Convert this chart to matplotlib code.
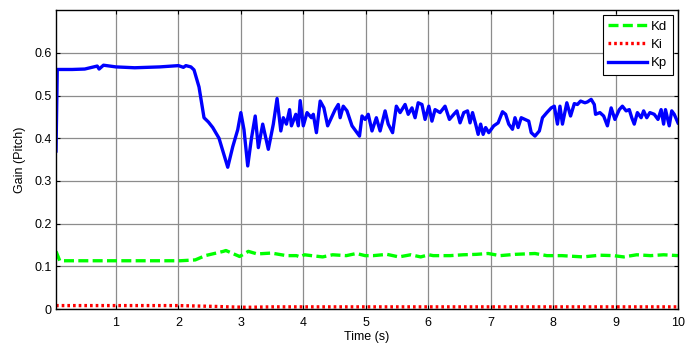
import matplotlib
matplotlib.use("Agg")
import matplotlib.pyplot as plt

plt.rcParams['font.family'] = ['Liberation Sans', 'DejaVu Sans']

# Proportional gain Kp over time
kp_t = [0.04, 0.06, 0.10, 0.30, 0.50, 0.70, 0.73, 0.80, 1.00, 1.30, 1.70, 2.00,
        2.08, 2.12, 2.20, 2.25, 2.33, 2.41, 2.48, 2.55, 2.65, 2.79, 2.87, 2.95,
        3.00, 3.05, 3.11, 3.17, 3.23, 3.28, 3.35, 3.44, 3.52, 3.58, 3.64, 3.68,
        3.73, 3.78, 3.81, 3.88, 3.92, 3.95, 4.00, 4.06, 4.13, 4.16, 4.21, 4.27,
        4.33, 4.39, 4.45, 4.51, 4.56, 4.59, 4.64, 4.70, 4.78, 4.84, 4.90, 4.94,
        4.99, 5.04, 5.10, 5.17, 5.23, 5.31, 5.36, 5.43, 5.49, 5.55, 5.63, 5.68,
        5.74, 5.79, 5.84, 5.90, 5.95, 6.01, 6.06, 6.11, 6.19, 6.27, 6.34, 6.41,
        6.46, 6.51, 6.57, 6.63, 6.67, 6.71, 6.76, 6.80, 6.84, 6.88, 6.92, 6.97,
        7.05, 7.12, 7.19, 7.24, 7.29, 7.35, 7.39, 7.44, 7.49, 7.55, 7.61, 7.65,
        7.71, 7.78, 7.83, 7.90, 7.97, 8.02, 8.07, 8.11, 8.15, 8.22, 8.28, 8.34,
        8.39, 8.44, 8.51, 8.55, 8.61, 8.66, 8.68, 8.75, 8.81, 8.87, 8.93, 8.99,
        9.06, 9.11, 9.17, 9.22, 9.26, 9.30, 9.35, 9.41, 9.45, 9.50, 9.55, 9.62,
        9.68, 9.73, 9.77, 9.80, 9.86, 9.90, 9.94, 10.0]
kp_v = [0.370, 0.561, 0.561, 0.561, 0.562, 0.569, 0.562, 0.571, 0.567, 0.565, 0.567, 0.570,
        0.566, 0.570, 0.567, 0.560, 0.520, 0.448, 0.438, 0.425, 0.400, 0.332, 0.380, 0.420,
        0.460, 0.420, 0.335, 0.400, 0.452, 0.378, 0.433, 0.374, 0.433, 0.493, 0.417, 0.448,
        0.433, 0.467, 0.429, 0.456, 0.429, 0.488, 0.429, 0.460, 0.448, 0.456, 0.413, 0.487,
        0.471, 0.429, 0.448, 0.467, 0.479, 0.448, 0.475, 0.464, 0.429, 0.417, 0.405, 0.452,
        0.444, 0.456, 0.417, 0.448, 0.417, 0.464, 0.433, 0.413, 0.475, 0.460, 0.479, 0.456,
        0.471, 0.448, 0.483, 0.479, 0.444, 0.475, 0.440, 0.467, 0.460, 0.475, 0.444, 0.456,
        0.464, 0.436, 0.460, 0.464, 0.436, 0.460, 0.433, 0.409, 0.433, 0.409, 0.425, 0.413,
        0.429, 0.436, 0.462, 0.456, 0.433, 0.421, 0.448, 0.425, 0.448, 0.444, 0.440, 0.413,
        0.405, 0.417, 0.448, 0.460, 0.471, 0.475, 0.433, 0.475, 0.433, 0.483, 0.452, 0.481,
        0.479, 0.487, 0.483, 0.485, 0.491, 0.479, 0.456, 0.460, 0.452, 0.429, 0.471, 0.444,
        0.467, 0.475, 0.464, 0.467, 0.448, 0.433, 0.460, 0.448, 0.464, 0.448, 0.460, 0.456,
        0.444, 0.467, 0.433, 0.467, 0.429, 0.464, 0.456, 0.436]

# Derivative gain Kd over time
kd_t = [0.04, 0.10, 1.00, 2.03, 2.27, 2.43, 2.72, 2.76, 2.98, 3.12, 3.26, 3.49,
        3.73, 3.89, 3.95, 4.02, 4.13, 4.31, 4.47, 4.69, 4.85, 4.99, 5.12, 5.34,
        5.53, 5.72, 5.88, 6.01, 6.08, 6.35, 6.56, 6.77, 6.96, 7.15, 7.39, 7.71,
        7.90, 8.14, 8.48, 8.75, 8.97, 9.13, 9.34, 9.56, 9.77, 10.0]
kd_v = [0.135, 0.113, 0.113, 0.113, 0.115, 0.125, 0.135, 0.137, 0.123, 0.135, 0.129, 0.131,
        0.125, 0.125, 0.122, 0.127, 0.125, 0.122, 0.127, 0.125, 0.130, 0.125, 0.125, 0.128,
        0.122, 0.127, 0.122, 0.127, 0.125, 0.125, 0.127, 0.128, 0.130, 0.125, 0.128, 0.130,
        0.125, 0.125, 0.122, 0.126, 0.125, 0.122, 0.127, 0.125, 0.127, 0.125]

# Integral gain Ki over time
ki_t = [0.04, 1.00, 2.00, 2.30, 2.60, 2.80, 3.10, 3.50, 4.50, 6.00, 8.00, 10.0]
ki_v = [0.008, 0.008, 0.008, 0.007, 0.006, 0.005, 0.004, 0.005, 0.005, 0.005, 0.005, 0.005]

fig = plt.figure(figsize=(6.89, 3.49), dpi=100)
ax = fig.add_axes([0.0813, 0.1146, 0.9027, 0.8564])

ax.plot(kd_t, kd_v, color='#00ff00', lw=2.4, linestyle=(0, (3.0, 1.3)), label='Kd')
ax.plot(ki_t, ki_v, color='#ff0000', lw=2.4, linestyle=(0, (0.8, 0.9)), label='Ki')
ax.plot(kp_t, kp_v, color='#0000ff', lw=2.4, label='Kp')

ax.set_xlim(0.04, 10)
ax.set_ylim(0, 0.7)
ax.set_xticks(range(1, 11))
ax.set_xticklabels([str(i) for i in range(1, 11)])
ax.set_yticks([0, 0.1, 0.2, 0.3, 0.4, 0.5, 0.6])
ax.set_yticklabels(['0', '0.1', '0.2', '0.3', '0.4', '0.5', '0.6'])
ax.grid(True, color='0.55', lw=0.9)
ax.set_axisbelow(True)
ax.tick_params(direction='in', top=True, right=True, labelsize=9, length=3,
               width=0.8, colors='black')
ax.tick_params(axis='x', pad=6)
ax.tick_params(axis='y', pad=3)
for s in ax.spines.values():
    s.set_linewidth(1.0)
    s.set_color('black')

ax.set_xlabel('Time (s)', fontsize=9, labelpad=1)
ax.set_ylabel('Gain (Pitch)', fontsize=9, labelpad=6)

leg = ax.legend(loc='upper right', fontsize=9.5, frameon=True, fancybox=False,
                edgecolor='black', framealpha=1, borderpad=0.4, handlelength=2.9,
                handletextpad=0.35, labelspacing=0.45, borderaxespad=0.4)
leg.get_frame().set_linewidth(0.8)

fig.savefig('out.png', dpi=100)
